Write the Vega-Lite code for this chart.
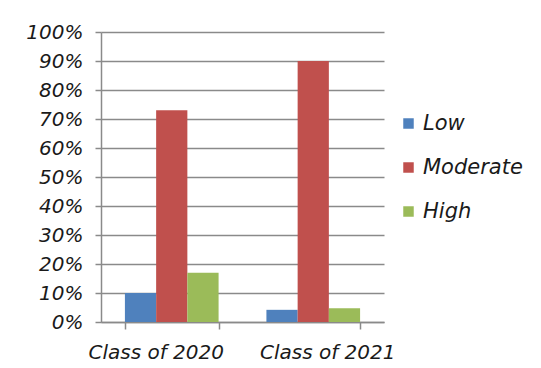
{
  "$schema": "https://vega.github.io/schema/vega-lite/v6.json",
  "width": 283,
  "height": 290,
  "autosize": {"type": "none"},
  "padding": {"left": 101, "top": 32, "right": 157, "bottom": 46},
  "background": "white",
  "data": {
    "values": [
      {"class": "Class of 2020", "level": "Low", "value": 0.10},
      {"class": "Class of 2020", "level": "Moderate", "value": 0.73},
      {"class": "Class of 2020", "level": "High", "value": 0.17},
      {"class": "Class of 2021", "level": "Low", "value": 0.042},
      {"class": "Class of 2021", "level": "Moderate", "value": 0.90},
      {"class": "Class of 2021", "level": "High", "value": 0.047}
    ]
  },
  "mark": {"type": "bar"},
  "encoding": {
    "x": {
      "field": "class",
      "type": "nominal",
      "sort": ["Class of 2020", "Class of 2021"],
      "scale": {"paddingInner": 0.338, "paddingOuter": 0.169},
      "axis": {
        "title": null,
        "labelAngle": 0,
        "tickBand": "extent",
        "tickSize": 7,
        "tickColor": "#8a8a8a",
        "tickWidth": 1.5,
        "domainColor": "#8a8a8a",
        "domainWidth": 1.5,
        "labelFontSize": 20,
        "labelFontStyle": "italic",
        "labelColor": "#1a1a1a",
        "labelPadding": 13,
        "labelOffset": {"condition": {"test": "datum.value == 'Class of 2020'", "value": -16}, "value": 14},
        "grid": false
      }
    },
    "xOffset": {
      "field": "level",
      "type": "nominal",
      "sort": ["Low", "Moderate", "High"],
      "scale": {"paddingInner": 0, "paddingOuter": 0}
    },
    "y": {
      "field": "value",
      "type": "quantitative",
      "scale": {"domain": [0, 1], "nice": false},
      "axis": {
        "title": null,
        "format": ".0%",
        "values": [0, 0.1, 0.2, 0.3, 0.4, 0.5, 0.6, 0.7, 0.8, 0.9, 1],
        "tickSize": 6,
        "tickColor": "#8a8a8a",
        "tickWidth": 1.5,
        "domainColor": "#8a8a8a",
        "domainWidth": 1.5,
        "gridColor": "#8a8a8a",
        "gridWidth": 1.5,
        "labelFontSize": 20,
        "labelFontStyle": "italic",
        "labelColor": "#1a1a1a",
        "labelPadding": 12
      }
    },
    "color": {
      "field": "level",
      "type": "nominal",
      "sort": ["Low", "Moderate", "High"],
      "scale": {"domain": ["Low", "Moderate", "High"], "range": ["#4F81BD", "#C0504D", "#9BBB59"]},
      "legend": {
        "title": null,
        "orient": "none",
        "legendX": 297,
        "legendY": 81,
        "symbolType": "square",
        "symbolSize": 110,
        "symbolStrokeWidth": 0,
        "labelFontSize": 21,
        "labelFontStyle": "italic",
        "labelColor": "#1a1a1a",
        "labelOffset": 4,
        "rowPadding": 22
      }
    }
  },
  "config": {"view": {"stroke": null}, "font": "DejaVu Sans"}
}
